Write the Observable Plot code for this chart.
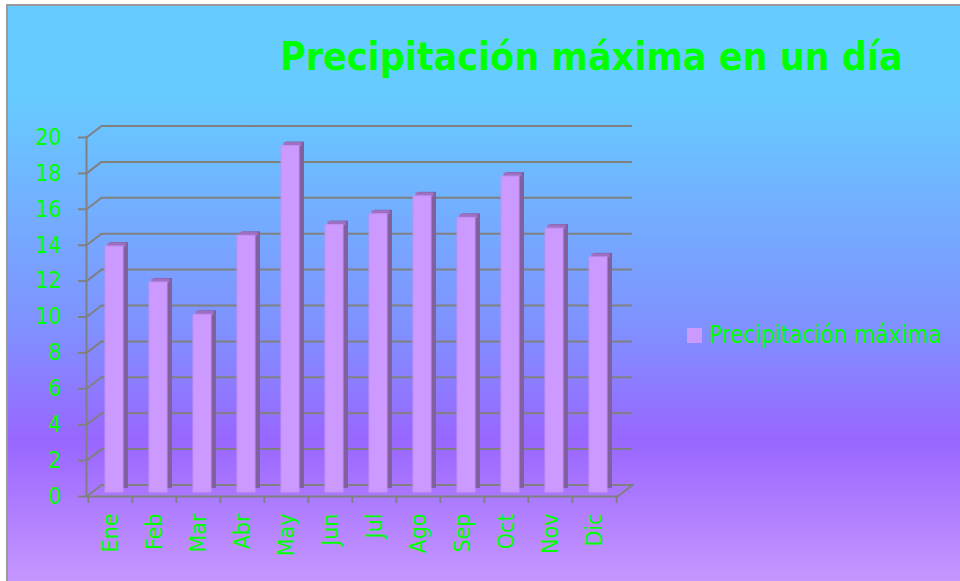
<!DOCTYPE html>
<html>
<head>
<meta charset="utf-8">
<script src="https://cdn.jsdelivr.net/npm/d3@7"></script>
<script src="https://cdn.jsdelivr.net/npm/@observablehq/plot@0.6"></script>
<style>
  html, body { margin: 0; padding: 0; background: #ffffff; }
  #wrap { position: relative; width: 960px; height: 581px; overflow: hidden; }
  #bg {
    position: absolute; left: 6px; top: 4px; width: 960px; height: 580px;
    border-left: 2px solid #9a9a9a; border-top: 2px solid #9a9a9a;
    background: linear-gradient(to bottom, #66ccff 0%, #66ccff 15%, #8090ff 56%, #9966ff 75%, #c898ff 100%);
  }
  #title {
    position: absolute; left: 280px; width: 620px; top: 37px;
    text-align: center; white-space: nowrap;
    font-family: "DejaVu Sans Condensed", "DejaVu Sans", sans-serif; font-stretch: condensed;
    font-weight: bold; font-size: 39px; line-height: 39px; color: #00ff00;
  }
  #legend-swatch { position: absolute; left: 687px; top: 328px; width: 15px; height: 15px; }
  #legend-text {
    position: absolute; left: 709px; top: 323px; white-space: nowrap;
    font-family: "DejaVu Sans Condensed", "DejaVu Sans", sans-serif; font-stretch: condensed;
    font-size: 24px; line-height: 24px; color: #00ff00;
  }
  #chart { position: absolute; left: 0; top: 0; }
</style>
</head>
<body>
<div id="wrap">
  <div id="bg"></div>
  <div id="chart"></div>
  <div id="title"></div>
  <div id="legend-swatch"></div>
  <div id="legend-text"></div>
</div>
<script>
const titleText = "Precipitación máxima en un día";
const seriesName = "Precipitación máxima";
const months = ["Ene","Feb","Mar","Abr","May","Jun","Jul","Ago","Sep","Oct","Nov","Dic"];
const values = [13.7, 11.7, 9.9, 14.3, 19.3, 14.9, 15.5, 16.5, 15.3, 17.6, 14.7, 13.1];
const yTicks = [0, 2, 4, 6, 8, 10, 12, 14, 16, 18, 20];

const frontColor = "#cc99ff";
const sideColor = "#80609f";
const topColor = "#9e70c4";
const gridColor = "#808080";
const textColor = "#00ff00";

const data = months.map((m, i) => ({month: m, value: values[i]}));

document.getElementById("title").textContent = titleText;
document.getElementById("legend-text").textContent = seriesName;
document.getElementById("legend-swatch").style.background = frontColor;

const lineShape = {draw(context, l) { context.moveTo(0, 0); context.lineTo(0, -l); }};
const depthLen = Math.hypot(15, 11.5);
const depthRot = Math.atan2(15, 11.5) * 180 / Math.PI;

const chart = Plot.plot({
  width: 960,
  height: 581,
  marginLeft: 86,
  marginRight: 343,
  marginTop: 137,
  marginBottom: 85,
  style: {background: "transparent", fontFamily: "'DejaVu Sans Condensed', 'DejaVu Sans', sans-serif", fontStretch: "condensed", fontSize: "23px"},
  x: {domain: months, padding: 0, axis: null},
  y: {domain: [0, 20], axis: null},
  marks: [
    // back wall grid lines
    Plot.ruleY(yTicks, {y: d => d, stroke: gridColor, strokeWidth: 2, dx: 15, dy: -11.5}),
    // depth connectors on the left wall
    Plot.vector(yTicks, {y: d => d, frameAnchor: "left", length: depthLen, rotate: depthRot, anchor: "start", shape: lineShape, stroke: gridColor, strokeWidth: 2}),
    // floor depth connector on the right
    Plot.vector([0], {y: d => d, frameAnchor: "right", length: depthLen + 1, rotate: depthRot, anchor: "start", shape: lineShape, stroke: gridColor, strokeWidth: 2}),
    // front axis lines
    Plot.frame({anchor: "left", stroke: gridColor, strokeWidth: 2}),
    Plot.frame({anchor: "bottom", stroke: gridColor, strokeWidth: 2}),
    // bar side faces
    Plot.barY(data, {x: "month", y: "value", fill: sideColor, insetLeft: 22, insetRight: 4, dy: -8}),
    // bar top faces
    Plot.tickY(data, {x: "month", y: "value", stroke: topColor, strokeWidth: 4, insetLeft: 19.5, insetRight: 6.5, dy: -6}),
    // bar front faces
    Plot.barY(data, {x: "month", y: "value", fill: frontColor, stroke: "#c490f4", strokeWidth: 1, insetLeft: 17, insetRight: 9, dy: -4}),
    // y axis ticks and labels
    Plot.axisY(yTicks, {tickSize: 8, tickFormat: () => "", stroke: gridColor, strokeWidth: 2, label: null}),
    Plot.axisY(yTicks, {tickSize: 0, tickPadding: 25, fill: textColor, fontSize: 23, label: null}),
    // x axis ticks at category boundaries
    Plot.axisX({tickSize: 7, tickFormat: () => "", stroke: gridColor, strokeWidth: 2, dx: -22.125, label: null}),
    Plot.axisX({ticks: ["Dic"], tickSize: 7, tickFormat: () => "", stroke: gridColor, strokeWidth: 2, dx: 22.125, label: null}),
    // x labels
    Plot.axisX({tickSize: 0, tickPadding: 17, tickRotate: -90, fill: textColor, fontSize: 23, label: null})
  ]
});
document.getElementById("chart").appendChild(chart);
</script>
</body>
</html>
